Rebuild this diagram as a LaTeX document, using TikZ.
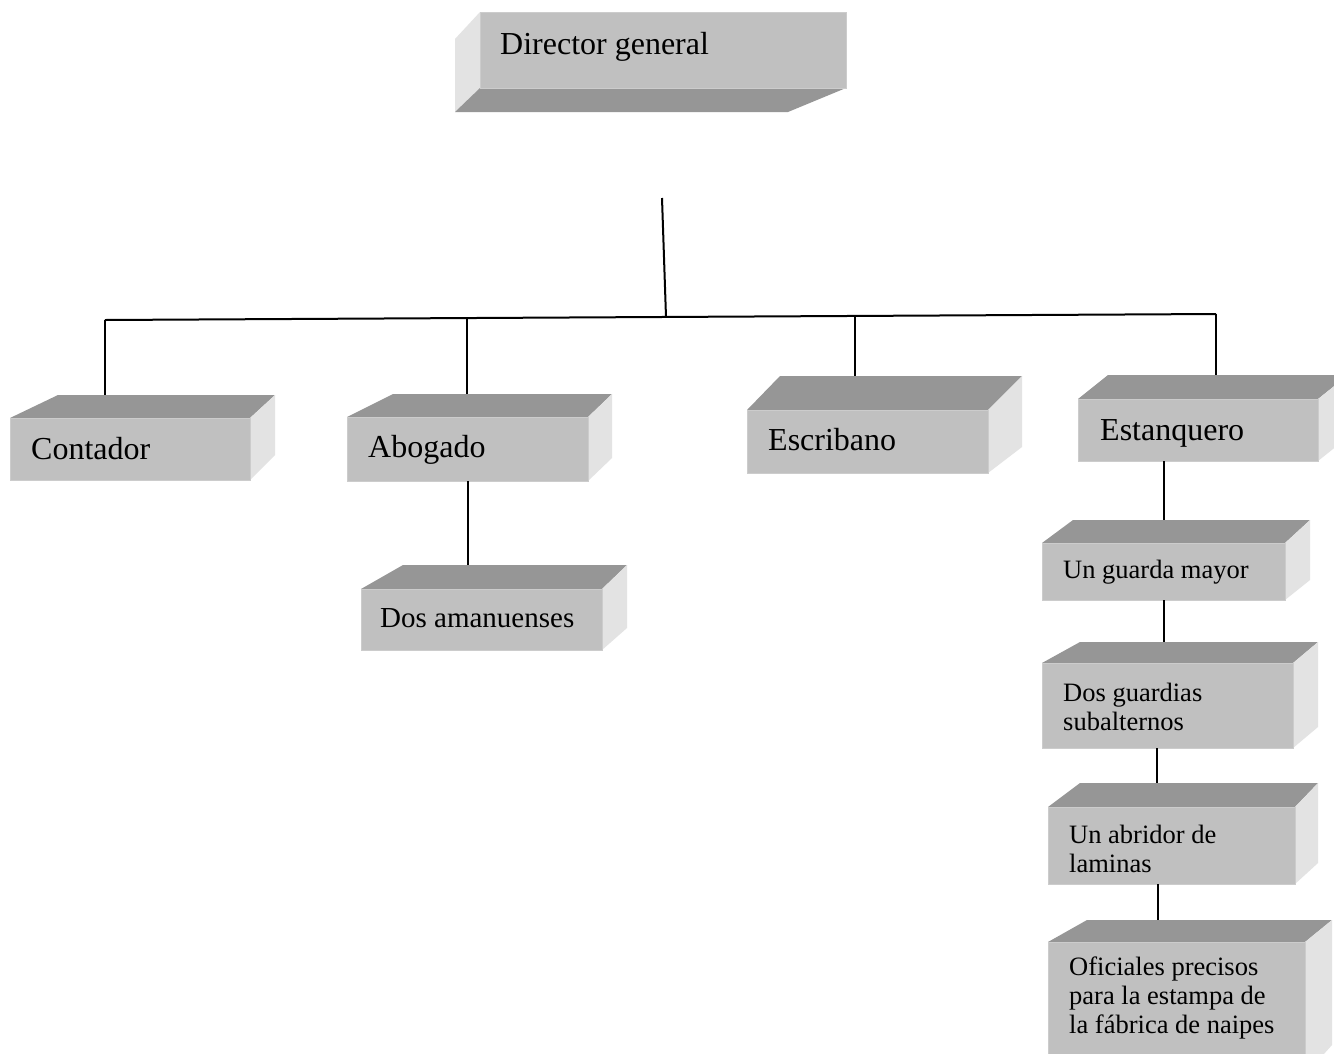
\documentclass[tikz,border=0pt]{standalone}
\usepackage{fontspec}
\setmainfont{Liberation Serif}
\usetikzlibrary{positioning}
\definecolor{cara}{HTML}{C0C0C0}
\definecolor{tapa}{HTML}{969696}
\definecolor{lado}{HTML}{E3E3E3}
\tikzset{
  frente/.style = {rectangle, fill=cara, draw=black!20, line width=1pt,
                   inner sep=0pt, outer sep=0pt, anchor=north west},
  texto/.style  = {inner sep=0pt, anchor=base west, align=left,
                   font=\fontsize{32}{38}\selectfont},
  chico/.style  = {texto, font=\fontsize{26.5}{29}\selectfont},
  linea/.style  = {line width=2pt},
}
% caja: nombre, x1, y1, x2, y2, x de la tapa, dx, dy, pie del lado
\newcommand{\caja}[9]{%
  \fill[tapa] (#2,#3) -- (#4,#3) -- (#4+#7,#3-#8) -- (#6,#3-#8) -- cycle;
  \fill[lado] (#4,#3) -- (#4+#7,#3-#8) -- (#4+#7,#9) -- (#4,#5) -- cycle;
  \node[frente, minimum width={(#4-#2)*1pt}, minimum height={(#5-#3)*1pt}] (#1) at (#2,#3) {};
  \coordinate (#1-t) at (#6,#3-#8);
}
\begin{document}
\begin{tikzpicture}[x=1pt, y=-1pt]
  \useasboundingbox[fill=white] (0,0) rectangle (1334,1053);

  % director
  \fill[lado] (455,39) -- (480,12) -- (480,88) -- (455,112) -- cycle;
  \fill[tapa] (480,88) -- (846,88) -- (788,112) -- (455,112) -- cycle;
  \node[frente, minimum width=366pt, minimum height=76pt] (director) at (480,12) {};
  \node[texto] (tdirector) at (500,54) {Director general};

  % primer nivel
  \caja{contador}{10}{418}{250}{480}{58}{25}{23}{455}
  \caja{abogado}{347}{417}{588}{481}{393}{24}{23}{458}
  \caja{escribano}{747}{410}{988}{473}{780}{34}{34}{447}
  \caja{estanquero}{1078}{399}{1318}{461}{1108}{30}{24}{437}
  \node[texto] (tcontador) at (31,459) {Contador};
  \node[texto] (tabogado) at (368,457) {Abogado};
  \node[texto] (tescribano) at (768,450) {Escribano};
  \node[texto] (testanquero) at (1100,440) {Estanquero};

  % bajo el abogado
  \caja{amanuenses}{361}{589}{602}{650}{403}{25}{24}{628}
  \node[texto, font=\fontsize{29}{34}\selectfont] (tamanuenses) at (380,627) {Dos amanuenses};

  % bajo el estanquero
  \caja{guarda}{1042}{543}{1285}{600}{1073}{25}{23}{580}
  \caja{guardias}{1042}{663}{1293}{748}{1080}{25}{21}{727}
  \caja{abridor}{1048}{807}{1295}{884}{1080}{23}{24}{863}
  \caja{oficiales}{1048}{942}{1305}{1075}{1087}{27}{22}{1045}
  \node[chico] (tguarda) at (1063,578) {Un guarda mayor};
  \node[chico] (tguardias) at (1063,730) {Dos guardias\\subalternos};
  \node[chico] (tabridor) at (1069,872) {Un abridor de\\laminas};
  \node[chico] (toficiales) at (1069,1033) {Oficiales precisos\\para la estampa de\\la fábrica de naipes};

  % lineas
  \coordinate (raiz) at (662,198);
  \coordinate (b0) at (666,317);
  \coordinate (b1) at (105,320);
  \coordinate (b2) at (467,318);
  \coordinate (b3) at (855,316);
  \coordinate (b4) at (1216,314);
  \draw[linea] (raiz) -- (b0);
  \draw[linea] (b1) -- (b4);
  \draw[linea] (b1) -- (b1 |- contador-t);
  \draw[linea] (b2) -- (b2 |- abogado-t);
  \draw[linea] (b3) -- (b3 |- escribano-t);
  \draw[linea] (b4) -- (b4 |- estanquero-t);
  \draw[linea] (abogado.south) -- (abogado.south |- amanuenses-t);
  \draw[linea] (guarda.north |- estanquero.south) -- (guarda.north |- guarda-t);
  \draw[linea] (guarda.south) -- (guarda.south |- guardias-t);
  \draw[linea] ([xshift=-11pt]guardias.south) -- ([xshift=-11pt]guardias.south |- abridor-t);
  \draw[linea] ([xshift=-14pt]abridor.south) -- ([xshift=-14pt]abridor.south |- oficiales-t);
\end{tikzpicture}
\end{document}
